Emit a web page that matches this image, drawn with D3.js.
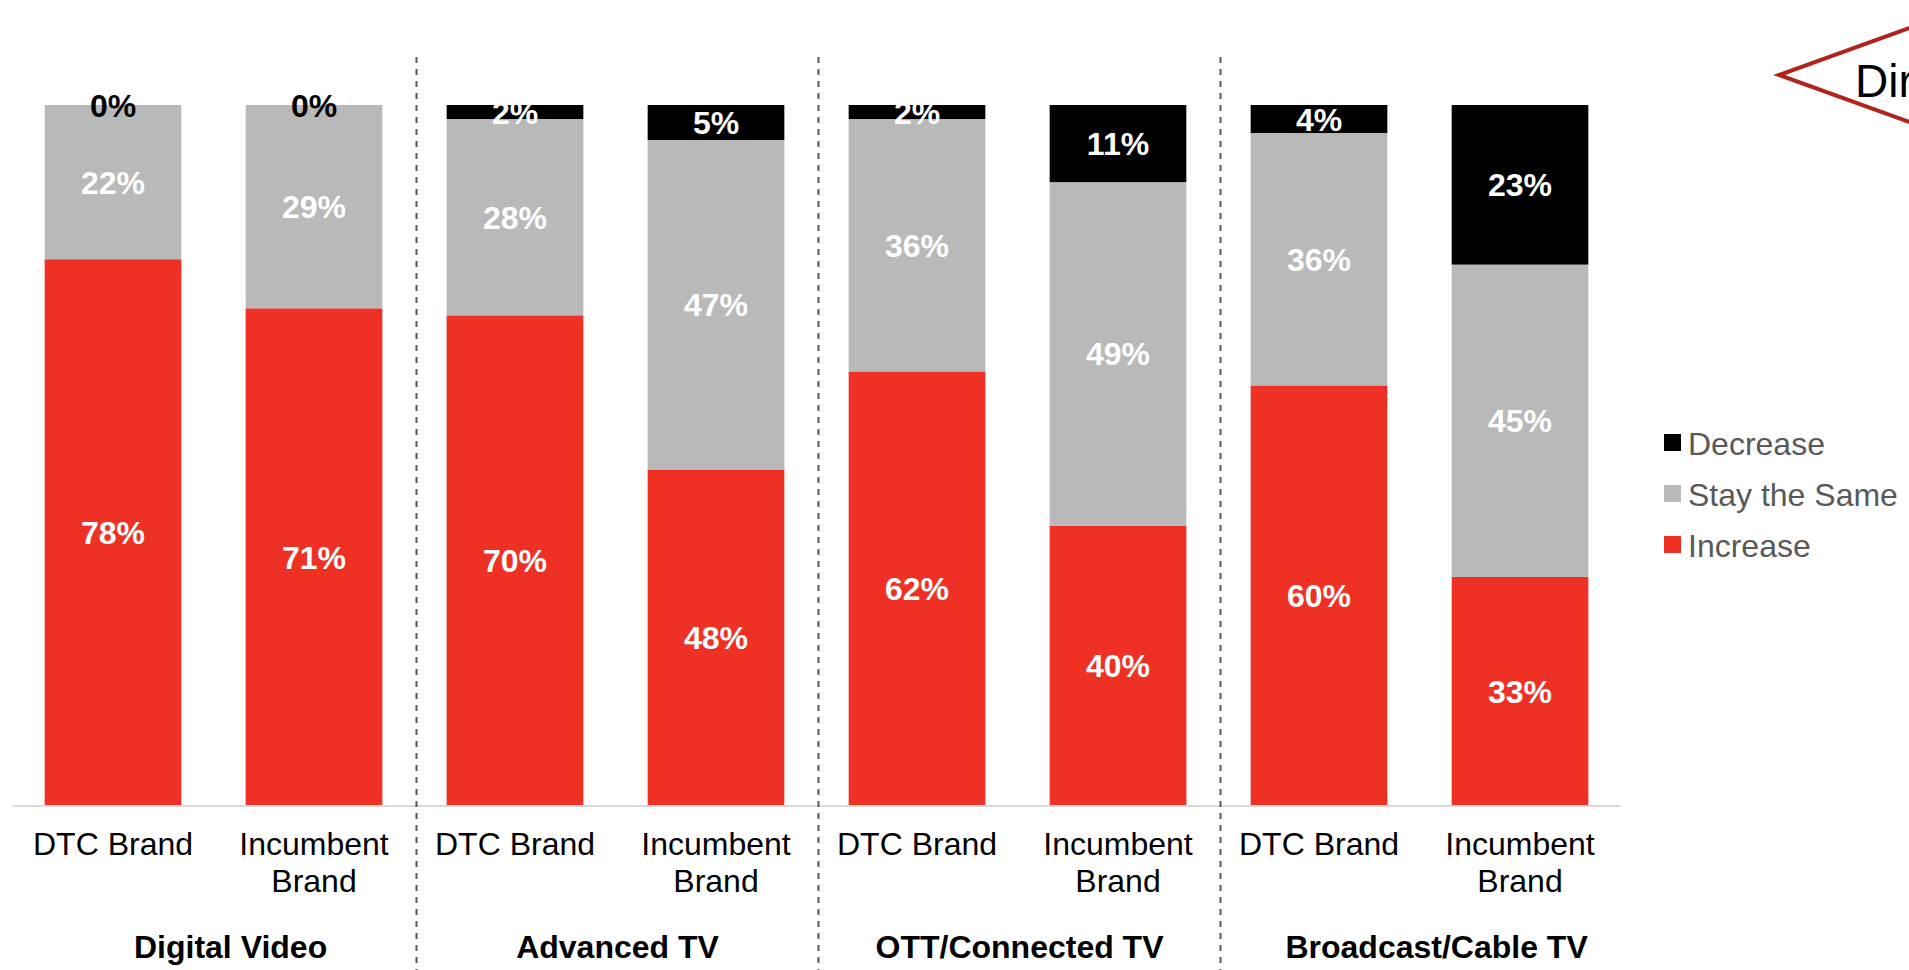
<!DOCTYPE html>
<html lang="en">
<head>
  <meta charset="UTF-8">
  <title>Media Spend Direction</title>
  <style>
    body { margin: 0; background: #fff; }
    svg { display: block; font-family: "Liberation Sans", Arial, sans-serif; }
    .divider { stroke: #595959; stroke-width: 2; stroke-dasharray: 6,6; }
    .baseline { stroke: #d9d9d9; stroke-width: 2; }
    .val { font-weight: bold; font-size: 32px; text-anchor: middle; }
    .group-label { font-weight: bold; font-size: 32px; text-anchor: middle; fill: #000; }
    .legend text { font-size: 32px; fill: #595959; }
  </style>
</head>
<body>
  <div id="chart"></div>

  <script src="https://cdnjs.cloudflare.com/ajax/libs/d3/7.8.5/d3.min.js"></script>
  <script>
    // data
    const groups = ["Digital Video", "Advanced TV", "OTT/Connected TV", "Broadcast/Cable TV"];
    const brands = ["DTC Brand", "Incumbent Brand"];
    const increase = [78, 71, 70, 48, 62, 40, 60, 33];
    const stay = [22, 29, 28, 47, 36, 49, 36, 45];
    const decrease = [0, 0, 2, 5, 2, 11, 4, 23];
    const seriesNames = ["Increase", "Stay the Same", "Decrease"];
    const seriesColors = ["#ee3124", "#b9b9b9", "#000000"];

    const width = 1909;
    const height = 970;

    const rows = d3.range(increase.length).map(i => ({
      idx: i,
      group: groups[Math.floor(i / brands.length)],
      brand: brands[i % brands.length],
      "Increase": increase[i],
      "Stay the Same": stay[i],
      "Decrease": decrease[i]
    }));

    const svg = d3.select("#chart")
      .append("svg")
      .attr("width", width)
      .attr("height", height);

    const x = d3.scaleBand()
      .domain(rows.map(d => d.idx))
      .range([12.5, 1620.5])
      .paddingInner(0.32)
      .paddingOuter(0.16);

    const y = d3.scaleLinear().domain([0, 1]).range([806, 105]);

    const color = d3.scaleOrdinal().domain(seriesNames).range(seriesColors);

    const stacked = d3.stack()
      .keys(seriesNames)
      .offset(d3.stackOffsetExpand)(rows);

    // bars
    const layers = svg.selectAll("g.layer")
      .data(stacked)
      .enter().append("g")
      .attr("class", "layer")
      .attr("fill", d => color(d.key));

    layers.selectAll("rect")
      .data(d => d)
      .enter().append("rect")
      .attr("x", d => x(d.data.idx))
      .attr("width", x.bandwidth())
      .attr("y", d => y(d[1]))
      .attr("height", d => y(d[0]) - y(d[1]));

    // value labels
    stacked.forEach(layer => {
      svg.append("g").selectAll("text")
        .data(layer)
        .enter().append("text")
        .attr("class", "val")
        .attr("x", d => x(d.data.idx) + x.bandwidth() / 2)
        .attr("y", d => (y(d[0]) + y(d[1])) / 2)
        .attr("dy", "0.36em")
        .attr("fill", d => d.data[layer.key] === 0 ? "#000" : "#fff")
        .text(d => d.data[layer.key] + "%");
    });

    // baseline
    svg.append("line")
      .attr("class", "baseline")
      .attr("x1", x.range()[0]).attr("x2", x.range()[1])
      .attr("y1", y(0)).attr("y2", y(0));

    // x axis labels
    const xAxis = d3.axisBottom(x)
      .tickSize(0)
      .tickPadding(0)
      .tickFormat(i => rows[i].brand);

    const axisG = svg.append("g")
      .attr("transform", `translate(0,${y(0)})`)
      .call(xAxis);
    axisG.select(".domain").remove();
    axisG.selectAll("text")
      .attr("font-family", "'Liberation Sans', Arial, sans-serif")
      .attr("font-size", 32)
      .attr("fill", "#000")
      .attr("dy", null)
      .attr("y", 49)
      .each(function() {
        const t = d3.select(this);
        const label = t.text();
        if (label.length > 10) {
          const words = label.split(" ");
          t.text(null);
          words.forEach((w, k) => {
            t.append("tspan").attr("x", 0).attr("y", 49 + k * 37).text(w);
          });
        }
      });

    // group dividers
    const step = x.step();
    const gap = step - x.bandwidth();
    const dividerX = g => x(g * brands.length) - gap / 2 + 2;
    for (let g = 1; g < groups.length; g++) {
      svg.append("line")
        .attr("class", "divider")
        .attr("x1", dividerX(g)).attr("x2", dividerX(g))
        .attr("y1", 57).attr("y2", height);
    }

    // group labels, centred between the group's bounds
    const last = rows.length - 1;
    const groupLeft = g => g === 0 ? x(0) : dividerX(g);
    const groupRight = g => g === groups.length - 1 ? x(last) + x.bandwidth() + gap : dividerX(g + 1);

    svg.selectAll("text.group-label")
      .data(groups)
      .enter().append("text")
      .attr("class", "group-label")
      .attr("x", (d, g) => (groupLeft(g) + groupRight(g)) / 2)
      .attr("y", 958)
      .text(d => d);

    // legend
    const legend = svg.append("g")
      .attr("class", "legend")
      .attr("transform", "translate(1664,443)");

    const legendItems = legend.selectAll("g")
      .data(seriesNames.slice().reverse())
      .enter().append("g")
      .attr("transform", (d, i) => `translate(0,${i * 51})`);

    legendItems.append("rect")
      .attr("x", 0).attr("y", -9)
      .attr("width", 17).attr("height", 17)
      .attr("fill", d => color(d));

    legendItems.append("text")
      .attr("x", 24)
      .attr("dy", "0.36em")
      .text(d => d);

    // callout shape at top right
    const tip = [1779, 75];
    const off = (2110 - tip[0]) * 0.36;
    svg.append("path")
      .attr("d", d3.line()([[2110, tip[1] - off], tip, [2110, tip[1] + off]]))
      .attr("fill", "#fff")
      .attr("stroke", "#b0241b")
      .attr("stroke-width", 4);

    svg.append("text")
      .attr("x", 1855)
      .attr("y", 97)
      .attr("font-size", 46)
      .attr("fill", "#000")
      .text("Direction");
  </script>
</body>
</html>
